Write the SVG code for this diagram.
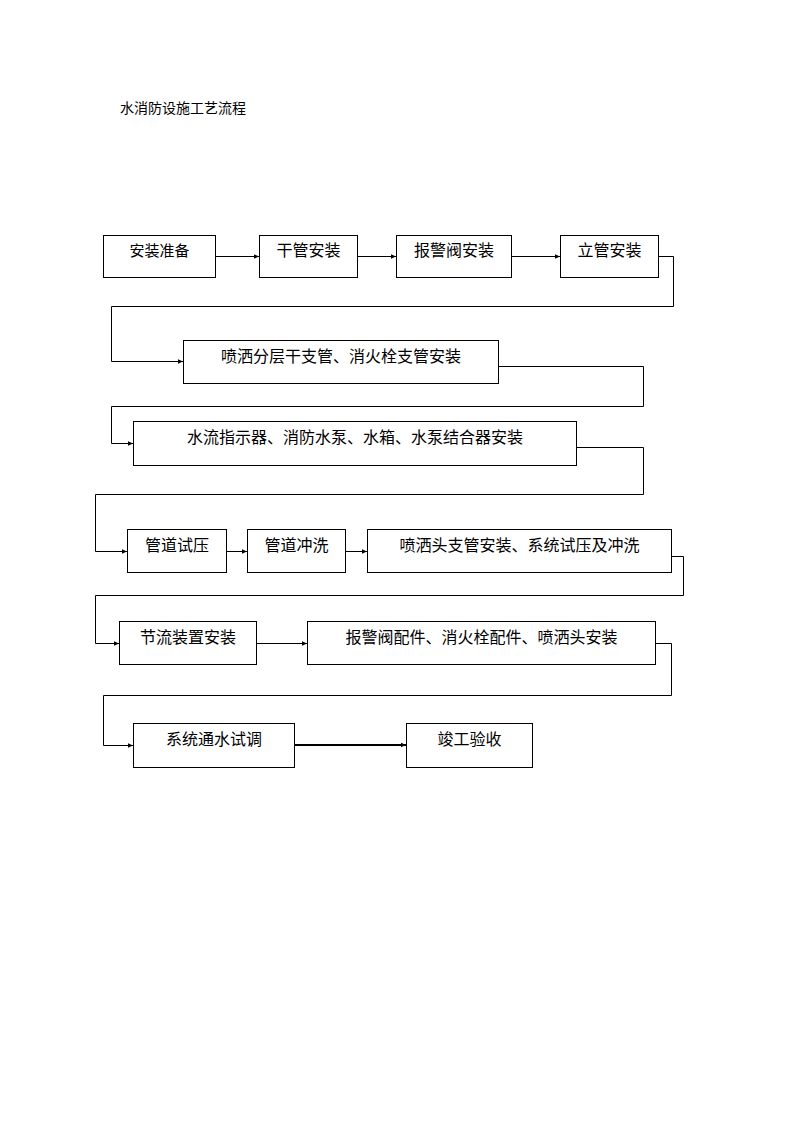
<svg xmlns="http://www.w3.org/2000/svg" width="794" height="1123" viewBox="0 0 794 1123">
<defs>
<marker id="ah" markerWidth="6" markerHeight="6" refX="5" refY="3" orient="auto" markerUnits="userSpaceOnUse">
<path d="M0,0.8 L5,3 L0,5.2 Z" fill="#000"/>
</marker>
</defs>
<style>
.box{fill:#fff;stroke:#000;stroke-width:1}
.t{font-family:"Liberation Sans","Noto Sans CJK SC",sans-serif;font-size:16px;fill:#000;text-anchor:middle}
.c{fill:none;stroke:#000;stroke-width:1;marker-end:url(#ah)}
.ct{fill:none;stroke:#000;stroke-width:2;marker-end:url(#ah)}
</style>
<rect width="794" height="1123" fill="#fff"/>
<text x="120" y="113" style="font-family:'Liberation Sans','Noto Sans CJK SC',sans-serif;font-size:14px">水消防设施工艺流程</text>
<g id="connectors">
<path class="c" d="M215.5,256.5 H259"/>
<path class="c" d="M357.5,256.5 H396"/>
<path class="c" d="M511.5,256.5 H560"/>
<path class="c" d="M658.5,256.5 H673.5 V306.5 H111.5 V361.5 H183"/>
<path class="c" d="M498.5,366.5 H643.5 V406.5 H111.5 V443.5 H133"/>
<path class="c" d="M576.5,447.5 H643.5 V494.5 H95.5 V551.5 H127"/>
<path class="c" d="M226.5,551.5 H247"/>
<path class="c" d="M345.5,551.5 H367"/>
<path class="c" d="M671.5,556.5 H683.5 V595.5 H95.5 V643.5 H119"/>
<path class="c" d="M256.5,643.5 H307"/>
<path class="c" d="M655.5,643.5 H671.5 V695.5 H103.5 V745.5 H133"/>
<path class="ct" d="M294.5,745 H406"/>
</g>
<g id="n1"><rect class="box" x="103.5" y="235.5" width="112" height="42"/><text class="t" x="159.5" y="256" style="font-size:15px">安装准备</text></g>
<g id="n2"><rect class="box" x="259.5" y="235.5" width="98" height="42"/><text class="t" x="308.5" y="256">干管安装</text></g>
<g id="n3"><rect class="box" x="396.5" y="235.5" width="115" height="42"/><text class="t" x="454" y="256">报警阀安装</text></g>
<g id="n4"><rect class="box" x="560.5" y="235.5" width="98" height="42"/><text class="t" x="609.5" y="256">立管安装</text></g>
<g id="n5"><rect class="box" x="183.5" y="340.5" width="315" height="43"/><text class="t" x="341" y="361.5">喷洒分层干支管、消火栓支管安装</text></g>
<g id="n6"><rect class="box" x="133.5" y="421.5" width="443" height="44"/><text class="t" x="355" y="443">水流指示器、消防水泵、水箱、水泵结合器安装</text></g>
<g id="n7"><rect class="box" x="127.5" y="529.5" width="99" height="43"/><text class="t" x="177" y="550.5">管道试压</text></g>
<g id="n8"><rect class="box" x="247.5" y="529.5" width="98" height="43"/><text class="t" x="296.5" y="550.5">管道冲洗</text></g>
<g id="n9"><rect class="box" x="367.5" y="529.5" width="304" height="43"/><text class="t" x="519.5" y="550.5">喷洒头支管安装、系统试压及冲洗</text></g>
<g id="n10"><rect class="box" x="119.5" y="621.5" width="137" height="43"/><text class="t" x="188" y="642.5">节流装置安装</text></g>
<g id="n11"><rect class="box" x="307.5" y="621.5" width="348" height="43"/><text class="t" x="481.5" y="642.5">报警阀配件、消火栓配件、喷洒头安装</text></g>
<g id="n12"><rect class="box" x="133.5" y="723.5" width="161" height="44"/><text class="t" x="214" y="745">系统通水试调</text></g>
<g id="n13"><rect class="box" x="406.5" y="723.5" width="126" height="44"/><text class="t" x="469.5" y="745">竣工验收</text></g>
</svg>
